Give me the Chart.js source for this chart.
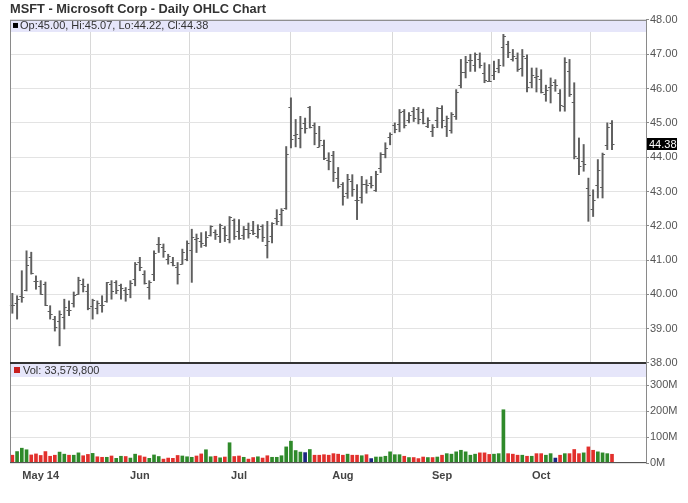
<!DOCTYPE html>
<html>
<head>
<meta charset="utf-8">
<title>MSFT Daily OHLC</title>
<script src="https://cdn.jsdelivr.net/npm/chart.js@4.4.1/dist/chart.umd.min.js"></script>
<style>
  html, body { margin: 0; padding: 0; background: #fff; }
  canvas { display: block; }
</style>
</head>
<body>
<canvas id="ohlc" width="688" height="503"></canvas>
<script>
// ── Data ─────────────────────────────────────────────────────────────────────
const dates = [
  "2014-04-23","2014-04-24","2014-04-25","2014-04-28","2014-04-29","2014-04-30",
  "2014-05-01","2014-05-02","2014-05-05","2014-05-06","2014-05-07","2014-05-08","2014-05-09",
  "2014-05-12","2014-05-13","2014-05-14","2014-05-15","2014-05-16","2014-05-19","2014-05-20",
  "2014-05-21","2014-05-22","2014-05-23","2014-05-27","2014-05-28","2014-05-29","2014-05-30",
  "2014-06-02","2014-06-03","2014-06-04","2014-06-05","2014-06-06","2014-06-09","2014-06-10",
  "2014-06-11","2014-06-12","2014-06-13","2014-06-16","2014-06-17","2014-06-18","2014-06-19",
  "2014-06-20","2014-06-23","2014-06-24","2014-06-25","2014-06-26","2014-06-27","2014-06-30",
  "2014-07-01","2014-07-02","2014-07-03","2014-07-07","2014-07-08","2014-07-09","2014-07-10",
  "2014-07-11","2014-07-14","2014-07-15","2014-07-16","2014-07-17","2014-07-18","2014-07-21",
  "2014-07-22","2014-07-23","2014-07-24","2014-07-25","2014-07-28","2014-07-29","2014-07-30",
  "2014-07-31",
  "2014-08-01","2014-08-04","2014-08-05","2014-08-06","2014-08-07","2014-08-08","2014-08-11",
  "2014-08-12","2014-08-13","2014-08-14","2014-08-15","2014-08-18","2014-08-19","2014-08-20",
  "2014-08-21","2014-08-22","2014-08-25","2014-08-26","2014-08-27","2014-08-28","2014-08-29",
  "2014-09-02","2014-09-03","2014-09-04","2014-09-05","2014-09-08","2014-09-09","2014-09-10",
  "2014-09-11","2014-09-12","2014-09-15","2014-09-16","2014-09-17","2014-09-18","2014-09-19",
  "2014-09-22","2014-09-23","2014-09-24","2014-09-25","2014-09-26","2014-09-29","2014-09-30",
  "2014-10-01","2014-10-02","2014-10-03","2014-10-06","2014-10-07","2014-10-08","2014-10-09",
  "2014-10-10","2014-10-13","2014-10-14","2014-10-15","2014-10-16","2014-10-17","2014-10-20",
  "2014-10-21","2014-10-22"
];

const opens = [
  39.70, 39.74, 39.95, 40.14, 41.10, 40.40,
  40.24, 40.31, 39.52, 39.29, 39.22, 39.34, 39.54, 39.74, 40.00, 40.30, 40.09, 39.67, 39.61, 39.68,
  39.80, 40.29, 40.37, 40.26, 40.14, 40.15, 40.45,
  40.95, 40.60, 40.21, 40.59, 41.48, 41.39, 41.03, 40.93, 40.81, 40.90, 41.04, 41.29, 41.61, 41.57,
  41.45, 41.73, 41.83, 41.70, 41.93, 41.61, 42.17,
  41.86, 41.73, 41.91, 41.88, 41.70, 41.98, 41.43, 41.70, 42.22, 42.33, 42.51, 45.45, 44.65, 44.56,
  45.00, 45.45, 44.93, 44.30, 44.36, 43.91, 44.07, 43.38,
  43.21, 42.97, 43.31, 42.74, 42.84, 43.23, 43.26, 43.04, 43.68, 44.08, 44.58, 44.94, 44.97, 45.34,
  45.08, 45.35, 45.40, 45.31, 44.92, 44.75, 45.09,
  45.43, 44.90, 44.80, 45.20, 46.10, 46.47, 46.82, 46.70, 46.85, 46.44, 46.21, 46.40, 46.60, 47.20,
  47.30, 46.85, 46.90, 46.60, 46.90, 46.20, 46.35,
  46.27, 45.83, 46.05, 46.20, 45.86, 45.48, 46.50, 45.60, 43.97, 43.90, 43.10, 42.50, 43.20, 43.13,
  44.36, 45.00
];

const highs = [
  40.03, 39.96, 40.69, 41.27, 41.23, 40.54,
  40.40, 40.36, 39.67, 39.36, 39.52, 39.86, 39.81, 40.07, 40.50, 40.45, 40.30, 39.86, 39.81, 39.96,
  40.35, 40.40, 40.40, 40.30, 40.20, 40.40, 40.93,
  41.08, 40.69, 40.40, 41.27, 41.66, 41.47, 41.17, 41.08, 40.93, 41.32, 41.56, 41.90, 41.76, 41.80,
  41.83, 42.00, 41.88, 42.05, 41.98, 42.27, 42.20,
  42.18, 41.98, 42.08, 42.13, 42.03, 42.03, 42.13, 42.09, 42.47, 42.50, 44.31, 45.73, 45.10, 45.19,
  45.14, 45.48, 45.00, 44.90, 44.50, 44.13, 44.17, 43.70,
  43.26, 43.50, 43.49, 43.20, 43.44, 43.34, 43.44, 43.59, 44.13, 44.42, 44.71, 45.00, 45.39, 45.39,
  45.30, 45.45, 45.45, 45.40, 45.15, 44.95, 45.45,
  45.50, 45.20, 45.30, 45.97, 46.85, 46.94, 47.00, 47.04, 47.04, 46.75, 46.70, 46.80, 46.85, 47.58,
  47.38, 47.14, 47.04, 47.14, 46.98, 46.60, 46.60,
  46.55, 46.10, 46.31, 46.26, 45.97, 46.90, 46.85, 46.17, 44.56, 44.37, 43.39, 43.05, 43.93, 44.12,
  45.00, 45.07
];

const lows = [
  39.45, 39.28, 39.77, 40.10, 40.59, 40.15,
  40.00, 39.67, 39.28, 38.93, 38.50, 38.99, 39.38, 39.63, 40.00, 40.07, 39.55, 39.28, 39.43, 39.48,
  39.77, 39.86, 40.02, 39.86, 39.80, 39.90, 40.25,
  40.69, 40.30, 39.86, 40.40, 41.22, 41.08, 40.88, 40.83, 40.30, 40.88, 40.98, 40.35, 41.22, 41.37,
  41.40, 41.70, 41.60, 41.51, 41.54, 41.50, 41.60,
  41.60, 41.60, 41.64, 41.74, 41.64, 41.54, 41.06, 41.50, 42.03, 42.00, 42.48, 44.27, 44.30, 44.27,
  44.70, 44.85, 44.36, 44.30, 43.93, 43.63, 43.29, 43.10,
  42.60, 42.80, 42.86, 42.18, 42.66, 42.95, 43.10, 43.00, 43.55, 43.98, 44.36, 44.71, 44.74, 44.85,
  45.00, 45.04, 44.97, 44.97, 44.86, 44.60, 44.86,
  44.85, 44.60, 44.70, 45.10, 46.02, 46.31, 46.50, 46.50, 46.60, 46.17, 46.21, 46.26, 46.46, 46.65,
  46.90, 46.80, 46.50, 46.36, 45.90, 46.02, 45.90,
  45.87, 45.63, 45.58, 45.92, 45.34, 45.34, 45.77, 43.95, 43.49, 43.59, 42.13, 42.27, 42.81, 42.81,
  44.22, 44.22
];

const closes = [
  39.69, 39.86, 39.91, 40.87, 40.62, 40.40,
  40.00, 39.69, 39.43, 39.06, 39.42, 39.64, 39.54, 39.97, 40.42, 40.24, 39.60, 39.83, 39.75, 39.68,
  40.35, 40.10, 40.12, 40.19, 40.01, 40.34, 40.90,
  40.79, 40.32, 40.35, 41.21, 41.48, 41.27, 41.11, 40.86, 40.58, 41.23, 41.50, 41.68, 41.65, 41.51,
  41.68, 41.99, 41.75, 42.03, 41.72, 42.25, 41.70,
  41.64, 41.90, 41.80, 41.78, 41.90, 41.67, 41.56, 42.09, 42.14, 42.45, 44.08, 44.53, 44.69, 44.84,
  44.84, 44.87, 44.70, 44.50, 43.97, 43.89, 43.58, 43.16,
  42.86, 43.37, 43.08, 42.74, 43.23, 43.20, 43.20, 43.52, 44.08, 44.27, 44.69, 44.83, 45.33, 44.95,
  45.22, 45.15, 45.12, 45.01, 45.08, 44.88, 45.43,
  45.09, 45.15, 45.26, 45.91, 46.47, 46.76, 46.84, 47.00, 46.70, 46.24, 46.23, 46.52, 46.68, 47.52,
  47.06, 46.96, 46.56, 46.96, 46.04, 46.41, 46.36,
  45.90, 45.95, 46.09, 46.09, 45.53, 46.78, 45.85, 44.03, 43.73, 43.80, 42.90, 42.74, 43.63, 44.08,
  44.88, 44.38
];

// volume in millions of shares
const volumesM = [
  30, 44, 57, 51, 31, 35,
  29, 44, 26, 30, 42, 34, 30, 30, 39, 28, 33, 37, 24, 22, 22, 27, 18, 26, 25, 19, 34,
  28, 23, 18, 31, 25, 15, 19, 18, 29, 27, 24, 22, 27, 35, 51, 24, 26, 20, 23, 78, 25,
  27, 22, 15, 21, 24, 19, 28, 22, 22, 28, 62, 84, 48, 42, 40, 52, 30, 30, 32, 30, 36, 34,
  30, 34, 30, 30, 28, 32, 17, 23, 23, 26, 43, 32, 32, 26, 21, 21, 17, 23, 21, 21, 23,
  30, 36, 34, 43, 49, 43, 30, 34, 39, 39, 33, 34, 36, 205, 36, 34, 30, 30, 26, 26, 36,
  36, 30, 36, 19, 30, 36, 36, 52, 36, 39, 62, 49, 43, 39, 36, 33.5798
];

const monthTicks = ["May 14", "Jun", "Jul", "Aug", "Sep", "Oct"];
const priceTicks = [38, 39, 40, 41, 42, 43, 44, 45, 46, 47, 48];
const volumeTicks = [0, 100, 200, 300];

// ── Colours ──────────────────────────────────────────────────────────────────
const COLORS = {
  bar:    "#5e5e5e",
  up:     "#2f8a2a",
  down:   "#e2302c",
  flat:   "#1c2580",
  grid:   "#e3e3e3",
  vgrid:  "#d8d8d8",
  band:   "#e6e6fa",
  axis:   "#8a8a8a",
  text:   "#555555",
};
const FONT = "'Liberation Sans', Arial, sans-serif";
Chart.defaults.font.family = FONT;

// month label for a trading-day index ('' when not the first day of a month)
function monthLabel(i) {
  if (i < 0 || i >= dates.length) return "";
  const m = dates[i].slice(0, 7);
  if (i > 0 && dates[i - 1].slice(0, 7) === m) return "";
  const idx = parseInt(m.slice(5), 10) - 5;
  return idx >= 0 ? monthTicks[idx] : "";
}
const monthStarts = dates.map((d, i) => i).filter((i) => monthLabel(i) !== "");

const volColors = closes.map((c, i) => {
  const ref = i === 0 ? opens[0] : closes[i - 1];
  if (c > ref) return COLORS.up;
  if (c < ref) return COLORS.down;
  return COLORS.flat;
});

// ── Plugins: open/close ticks, panel bands, frame, last price tag ───────────
const ohlcTicks = {
  id: "ohlcTicks",
  afterDatasetsDraw(chart) {
    const meta = chart.getDatasetMeta(0);
    const y = chart.scales.y;
    const c = chart.ctx;
    c.save();
    c.strokeStyle = COLORS.bar;
    c.lineWidth = 1;
    c.beginPath();
    meta.data.forEach((bar, i) => {
      const yo = Math.round(y.getPixelForValue(opens[i])) + 0.5;
      const yc = Math.round(y.getPixelForValue(closes[i])) + 0.5;
      c.moveTo(bar.x - 2.5, yo); c.lineTo(bar.x, yo);
      c.moveTo(bar.x, yc);       c.lineTo(bar.x + 2.5, yc);
    });
    c.stroke();
    c.restore();
  },
};

const panels = {
  id: "panels",
  beforeDatasetsDraw(chart) {
    const { ctx: c, chartArea: a, scales } = chart;
    const last = dates.length - 1;
    const vTop = scales.yv.top;
    c.save();
    // header bands
    c.fillStyle = COLORS.band;
    c.fillRect(a.left, a.top, a.right - a.left, 12);
    c.fillRect(a.left, vTop + 1, a.right - a.left, 13);

    c.font = "11px " + FONT;
    c.textBaseline = "middle";
    c.fillStyle = "#000";
    c.fillRect(a.left + 3, a.top + 3, 5, 5);
    c.fillStyle = "#333";
    c.fillText(
      "Op:" + opens[last].toFixed(2) + ", Hi:" + highs[last].toFixed(2) +
      ", Lo:" + lows[last].toFixed(2) + ", Cl:" + closes[last].toFixed(2),
      a.left + 10, a.top + 6.5
    );
    c.fillStyle = "#c81e1e";
    c.fillRect(a.left + 4, vTop + 4, 6, 6);
    c.fillStyle = "#333";
    c.fillText("Vol: " + Math.round(volumesM[last] * 1e6).toLocaleString("en-US"), a.left + 13, vTop + 7.5);
    c.restore();
  },
  afterDraw(chart) {
    const { ctx: c, chartArea: a, scales } = chart;
    const sep = scales.y.bottom;
    c.save();
    // frame
    c.strokeStyle = COLORS.axis;
    c.lineWidth = 1;
    c.beginPath();
    c.moveTo(a.left + 0.5, a.top); c.lineTo(a.left + 0.5, a.bottom);
    c.moveTo(a.left, a.top + 0.5); c.lineTo(a.right, a.top + 0.5);
    c.stroke();
    c.strokeStyle = "#555";
    c.beginPath();
    c.moveTo(a.left, a.bottom - 0.5); c.lineTo(a.right, a.bottom - 0.5);
    c.stroke();
    // separator between price and volume panels
    c.strokeStyle = "#333";
    c.lineWidth = 2;
    c.beginPath();
    c.moveTo(a.left, sep); c.lineTo(a.right, sep);
    c.stroke();

    // last price tag on the price axis
    const last = closes[closes.length - 1];
    const py = scales.y.getPixelForValue(last);
    c.fillStyle = "#000";
    c.fillRect(a.right + 1, Math.round(py) - 6, 30, 12);
    c.fillStyle = "#fff";
    c.font = "11px " + FONT;
    c.textBaseline = "middle";
    c.fillText(last.toFixed(2), a.right + 3, py + 0.5);
    c.restore();
  },
};

// ── Chart ────────────────────────────────────────────────────────────────────
const ctx = document.getElementById("ohlc").getContext("2d");
new Chart(ctx, {
  type: "bar",
  data: {
    datasets: [
      {
        label: "MSFT",
        data: dates.map((d, i) => ({ x: i, y: [lows[i], highs[i]] })),
        yAxisID: "y",
        backgroundColor: COLORS.bar,
        barThickness: 1.3,
        grouped: false,
      },
      {
        label: "Volume",
        data: volumesM.map((v, i) => ({ x: i, y: v })),
        yAxisID: "yv",
        backgroundColor: volColors,
        barThickness: 3,
        grouped: false,
      },
    ],
  },
  options: {
    responsive: false,
    animation: false,
    devicePixelRatio: 1,
    layout: { padding: { left: 10, right: 0, top: 0, bottom: 0 } },
    plugins: {
      legend: { display: false },
      tooltip: { enabled: false },
      title: {
        display: true,
        text: "MSFT - Microsoft Corp - Daily OHLC Chart",
        align: "start",
        color: "#333",
        font: { size: 12.8, weight: "bold", family: FONT },
        padding: { top: 1.5, bottom: 3.1 },
      },
    },
    scales: {
      x: {
        type: "linear",
        min: -0.5,
        max: 134.2,
        offset: false,
        afterBuildTicks: (s) => { s.ticks = monthStarts.map((v) => ({ value: v })); },
        grid: { drawTicks: false, color: COLORS.vgrid },
        border: { display: false },
        ticks: {
          autoSkip: false,
          maxRotation: 0,
          padding: 6,
          color: "#444",
          font: { size: 11, weight: "bold", family: FONT },
          callback: (v) => monthLabel(v),
        },
        afterFit: (s) => { s.height = 40; },
      },
      y: {
        position: "right",
        stack: "panes",
        stackWeight: 343,
        min: 38,
        max: 48,
        afterBuildTicks: (s) => { s.ticks = priceTicks.map((v) => ({ value: v })); },
        grid: { color: COLORS.grid, tickColor: COLORS.axis, tickLength: 3 },
        border: { display: true, color: COLORS.axis },
        ticks: {
          padding: 1,
          color: COLORS.text,
          font: { size: 11, family: FONT },
          callback: (v) => Number(v).toFixed(2),
        },
        afterFit: (s) => { s.width = 42; },
      },
      yv: {
        position: "right",
        stack: "panes",
        stackWeight: 100,
        min: 0,
        max: 385,
        afterBuildTicks: (s) => { s.ticks = volumeTicks.map((v) => ({ value: v })); },
        grid: { color: COLORS.grid, tickColor: COLORS.axis, tickLength: 3 },
        border: { display: true, color: COLORS.axis },
        ticks: {
          padding: 1,
          color: COLORS.text,
          font: { size: 11, family: FONT },
          callback: (v) => v + "M",
        },
        afterFit: (s) => { s.width = 42; },
      },
    },
  },
  plugins: [ohlcTicks, panels],
});
</script>
</body>
</html>
